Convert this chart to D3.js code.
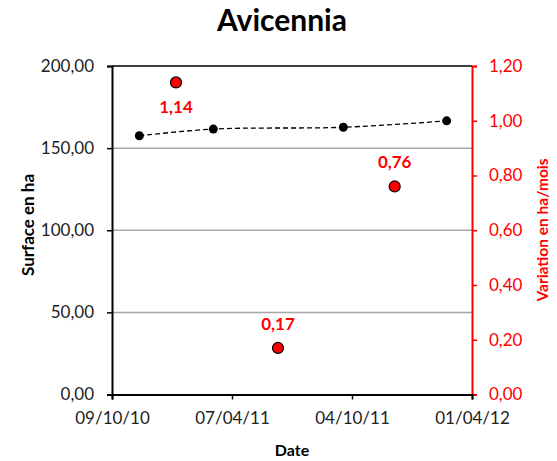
<!DOCTYPE html>
<html><head><meta charset="utf-8">
<script src="https://cdn.jsdelivr.net/npm/d3@7"></script>
<style>
html,body{margin:0;padding:0;background:#fff;}
svg{display:block;font-family:Lato, "Open Sans", sans-serif;}
</style></head>
<body>
<svg id="chart" width="557" height="461"></svg>
<script>
// ---- data ----
const chartTitle = "Avicennia";
const surveyDates = ["19/11/10", "10/03/11", "21/09/11", "23/02/12"];
const surfaceHa = [157.5, 161.6, 162.7, 166.6];
const variationDates = ["13/01/11", "15/06/11", "07/12/11"];
const variationHaPerMonth = [1.14, 0.17, 0.76];
const xTickLabels = ["09/10/10", "07/04/11", "04/10/11", "01/04/12"];
const leftTicks = [0, 50, 100, 150, 200];
const rightTicks = [0, 0.2, 0.4, 0.6, 0.8, 1.0, 1.2];
const labelBelow = [true, false, false];

// ---- setup ----
const parse = d3.utcParse("%d/%m/%y");
const fr = d3.formatLocale({decimal: ",", thousands: " ", grouping: [3], currency: ["", " €"]});
const f2 = fr.format(".2f");

const svg = d3.select("#chart");
const L = 112, R = 472, T = 66, B = 394.5;

const x = d3.scaleUtc().domain([parse(xTickLabels[0]), parse(xTickLabels[xTickLabels.length - 1])]).range([L, R]);
const yL = d3.scaleLinear().domain([0, 200]).range([B, T]);
const yR = d3.scaleLinear().domain([0, 1.2]).range([B, T]);

// gridlines
svg.append("g").selectAll("line").data(leftTicks.filter(v => v > 0 && v < 200)).join("line")
  .attr("x1", L).attr("x2", R).attr("y1", d => yL(d)).attr("y2", d => yL(d))
  .attr("stroke", "#a6a6a6").attr("stroke-width", 1.5);
// top border
svg.append("line").attr("x1", L).attr("x2", R).attr("y1", yL(200)).attr("y2", yL(200))
  .attr("stroke", "#000").attr("stroke-width", 1.5);

// left axis
const gL = svg.append("g").attr("transform", `translate(${L},0)`)
  .call(d3.axisLeft(yL).tickValues(leftTicks).tickFormat(f2).tickSize(5).tickPadding(13));
gL.select(".domain").attr("stroke", "#000").attr("stroke-width", 2);
gL.selectAll(".tick line").attr("stroke", "#000").attr("stroke-width", 1.5);
gL.selectAll(".tick text").attr("fill", "#222").style("font-size", "17px").style("font-family", "Lato");

// right axis
const gR = svg.append("g").attr("transform", `translate(${R},0)`)
  .call(d3.axisRight(yR).tickValues(rightTicks).tickFormat(f2).tickSize(5).tickPadding(12));
gR.select(".domain").attr("stroke", "#ff0000").attr("stroke-width", 2);
gR.selectAll(".tick line").attr("stroke", "#ff0000").attr("stroke-width", 1.5);
gR.selectAll(".tick text").attr("fill", "#ff0000").style("font-size", "17px").style("font-family", "Lato");

// bottom axis
const gB = svg.append("g").attr("transform", `translate(0,${B})`)
  .call(d3.axisBottom(x).tickValues(xTickLabels.map(parse)).tickFormat(d3.utcFormat("%d/%m/%y")).tickSize(5).tickPadding(12));
gB.select(".domain").attr("stroke", "#000").attr("stroke-width", 2);
gB.selectAll(".tick line").attr("stroke", "#000").attr("stroke-width", 1.5);
gB.selectAll(".tick text").attr("fill", "#222").style("font-size", "17px").style("font-family", "Lato");

// surface series: dashed smooth line
const surfData = surveyDates.map((d, i) => ({date: parse(d), v: surfaceHa[i]}));
svg.append("path").datum(surfData)
  .attr("d", d3.line().x(d => x(d.date)).y(d => yL(d.v)).curve(d3.curveCatmullRom.alpha(0.5)))
  .attr("fill", "none").attr("stroke", "#000").attr("stroke-width", 1.3).attr("stroke-dasharray", "5,3");
svg.append("g").selectAll("circle").data(surfData).join("circle")
  .attr("cx", d => x(d.date)).attr("cy", d => yL(d.v)).attr("r", 4.5).attr("fill", "#000");

// variation series
const varData = variationDates.map((d, i) => ({date: parse(d), v: variationHaPerMonth[i], below: labelBelow[i]}));
svg.append("g").selectAll("circle").data(varData).join("circle")
  .attr("cx", d => x(d.date)).attr("cy", d => yR(d.v)).attr("r", 5.5)
  .attr("fill", "#ff0000").attr("stroke", "#000").attr("stroke-width", 1.2);
svg.append("g").selectAll("text").data(varData).join("text")
  .attr("x", d => x(d.date)).attr("y", d => yR(d.v) + (d.below ? 31 : -18))
  .attr("text-anchor", "middle").attr("fill", "#ff0000")
  .style("font-size", "17px").style("font-weight", "bold")
  .text(d => fr.format(".2f")(d.v));

// titles
svg.append("text").attr("x", 282).attr("y", 31).attr("text-anchor", "middle")
  .style("font-size", "30px").style("font-weight", "bold").attr("fill", "#000").text(chartTitle);
svg.append("text").attr("x", (L + R) / 2).attr("y", 456).attr("text-anchor", "middle")
  .style("font-size", "16px").style("font-weight", "bold").attr("fill", "#000").text("Date");
svg.append("text").attr("transform", `translate(34,225) rotate(-90)`).attr("text-anchor", "middle")
  .style("font-size", "17px").style("font-weight", "bold").attr("fill", "#000").text("Surface en ha");
svg.append("text").attr("transform", `translate(548,230) rotate(-90)`).attr("text-anchor", "middle")
  .style("font-size", "15.5px").style("font-weight", "bold").attr("fill", "#ff0000").text("Variation en ha/mois");
</script>
</body></html>
